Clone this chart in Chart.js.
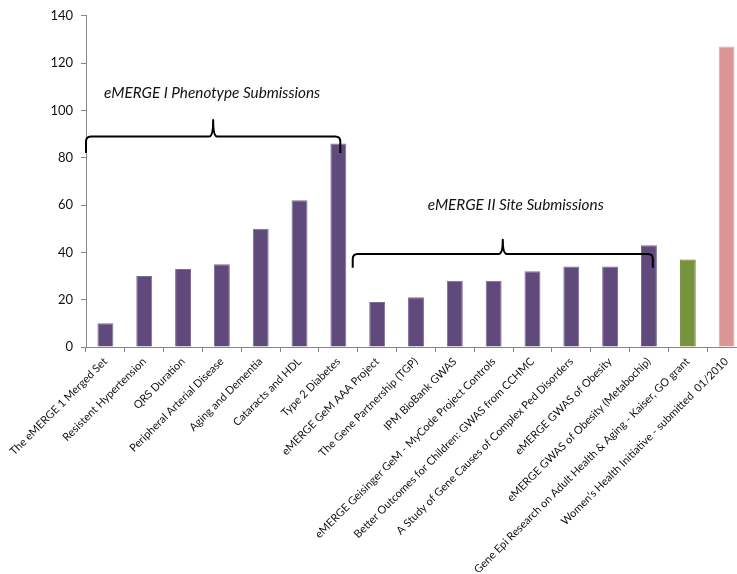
<!DOCTYPE html>
<html>
<head>
<meta charset="utf-8">
<script src="https://cdn.jsdelivr.net/npm/chart.js@4.4.1/dist/chart.umd.min.js"></script>
<style>
  html, body { margin: 0; padding: 0; background: #fff; overflow: hidden; }
  #wrap { width: 746px; height: 574px; }
</style>
</head>
<body>
<div id="wrap"><canvas id="submissions-chart" width="746" height="574"></canvas></div>
<script>
const projects = [
    'The eMERGE 1 Merged Set',
    'Resistent Hypertension',
    'QRS Duration',
    'Peripheral Arterial Disease',
    'Aging and Dementia',
    'Cataracts and HDL',
    'Type 2 Diabetes',
    'eMERGE GeM AAA Project',
    'The Gene Partnership (TGP)',
    'IPM BioBank GWAS',
    'eMERGE Geisinger GeM - MyCode Project Controls',
    'Better Outcomes for Children: GWAS from CCHMC',
    'A Study of Gene Causes of Complex Ped Disorders',
    'eMERGE GWAS of Obesity',
    'eMERGE GWAS of Obesity (Metabochip)',
    'Gene Epi Research on Adult Health & Aging - Kaiser, GO grant',
    'Women\u2019s Health Initiative - submitted  01/2010'
];
const submissions = [10, 30, 33, 35, 50, 62, 86, 19, 21, 28, 28, 32, 34, 34, 43, 37, 127];
// which group each project belongs to: phenotype, site, kaiser, whi
const groups = ['p', 'p', 'p', 'p', 'p', 'p', 'p', 's', 's', 's', 's', 's', 's', 's', 's', 'k', 'w'];
const yTicks = [0, 20, 40, 60, 80, 100, 120, 140];

// bracket annotations: category span, bracket heights and caption
const phenotypeBrace = { from: -0.5, to: 6.05, line: 89, ends: 82, peak: 96, text: 'eMERGE I Phenotype Submissions', textX: 2.75, textY: 107.5 };
const siteBrace = { from: 6.37, to: 14.1, line: 39.3, ends: 33.5, peak: 45.3, text: 'eMERGE II Site Submissions', textX: 10.57, textY: 60 };

function getColor(group) {
    if (group === 'k') return '#77933c';
    if (group === 'w') return '#d99694';
    return '#604a7b';
}

function getBorder(group) {
    if (group === 'k') return '#5e7a2a';
    if (group === 'w') return '#e3aaa8';
    return '#7d6a96';
}

const bracePlugin = {
    id: 'braces',
    afterDatasetsDraw(chart) {
        const ctx = chart.ctx;
        const x = chart.scales.x;
        const y = chart.scales.y;
        [phenotypeBrace, siteBrace].forEach(b => {
            const x1 = x.getPixelForValue(b.from);
            const x2 = x.getPixelForValue(b.to);
            const xm = (x1 + x2) / 2;
            const yl = y.getPixelForValue(b.line);
            const ye = y.getPixelForValue(b.ends);
            const yp = y.getPixelForValue(b.peak);
            const r = 5;
            ctx.save();
            ctx.strokeStyle = '#000';
            ctx.lineWidth = 2;
            ctx.lineJoin = 'round';
            ctx.beginPath();
            ctx.moveTo(x1, ye);
            ctx.lineTo(x1, yl + r);
            ctx.quadraticCurveTo(x1, yl, x1 + r, yl);
            ctx.lineTo(xm - 4, yl);
            ctx.quadraticCurveTo(xm, yl, xm, yp);
            ctx.quadraticCurveTo(xm, yl, xm + 4, yl);
            ctx.lineTo(x2 - r, yl);
            ctx.quadraticCurveTo(x2, yl, x2, yl + r);
            ctx.lineTo(x2, ye);
            ctx.stroke();

            ctx.fillStyle = '#111';
            ctx.font = 'italic 15.3px Lato';
            ctx.textAlign = 'center';
            ctx.textBaseline = 'middle';
            ctx.fillText(b.text, x.getPixelForValue(b.textX), y.getPixelForValue(b.textY));
            ctx.restore();
        });
    }
};

new Chart(document.querySelector('#submissions-chart').getContext('2d'), {
    type: 'bar',
    data: {
        labels: projects,
        datasets: [{
            label: 'Submissions',
            data: submissions,
            backgroundColor: groups.map(g => getColor(g)),
            borderColor: groups.map(g => getBorder(g)),
            borderWidth: 1,
            barPercentage: 0.41,
            categoryPercentage: 1
        }]
    },
    options: {
        responsive: false,
        animation: false,
        layout: { padding: { top: 14, right: 0, left: 0, bottom: 0 } },
        plugins: {
            legend: { display: false },
            tooltip: { enabled: false }
        },
        scales: {
            x: {
                grid: { display: true, drawOnChartArea: false, offset: true, color: '#868686', tickLength: 5 },
                border: { color: '#868686' },
                ticks: {
                    autoSkip: false,
                    maxRotation: 45,
                    minRotation: 45,
                    color: '#111',
                    font: { family: 'Lato', size: 11 },
                    padding: 3
                },
                afterFit(scale) { scale.height = 227; }
            },
            y: {
                min: 0,
                max: 140,
                afterBuildTicks(scale) { scale.ticks = yTicks.map(v => ({ value: v })); },
                grid: { display: true, drawOnChartArea: false, color: '#868686', tickLength: 5 },
                border: { color: '#868686' },
                ticks: {
                    color: '#111',
                    font: { family: 'Lato', size: 13 },
                    padding: 8
                },
                afterFit(scale) { scale.width = 86; }
            }
        }
    },
    plugins: [bracePlugin]
});
</script>
</body>
</html>
